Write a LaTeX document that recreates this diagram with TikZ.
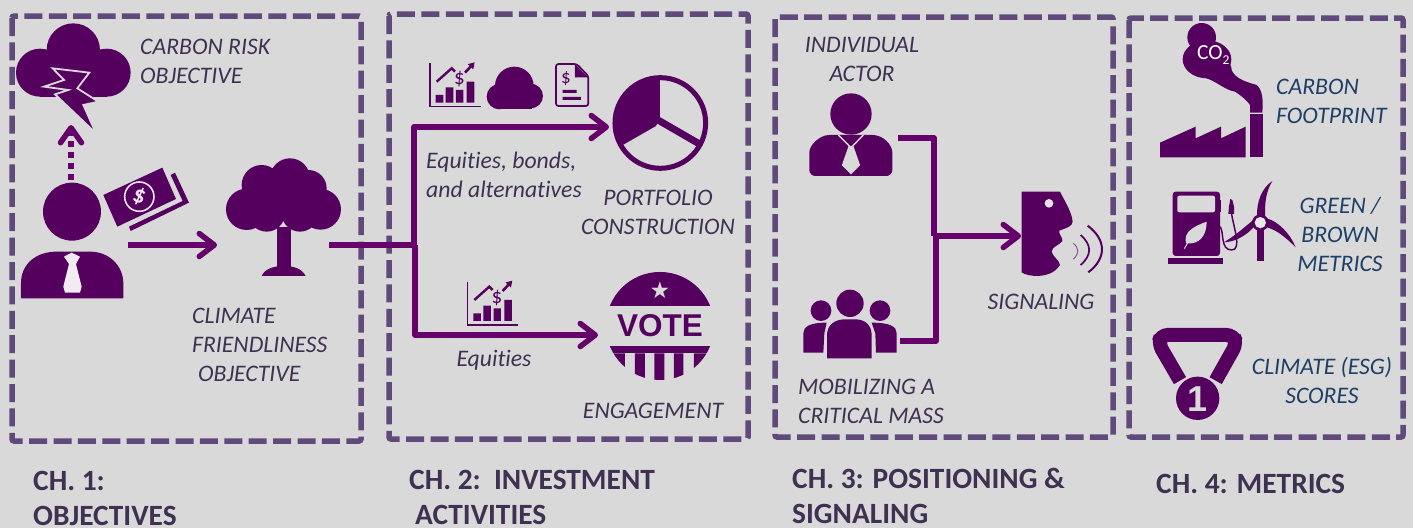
\documentclass[tikz,border=0pt]{standalone}
\usepackage{fontspec}
\setmainfont{Carlito}[Ligatures=NoCommon]
\newfontfamily\voteface{Liberation Sans}
\newfontfamily\symface{DejaVu Sans}
\usetikzlibrary{arrows.meta}
\definecolor{bgc}{HTML}{D9D9D9}
\definecolor{pur}{HTML}{55005F}
\definecolor{lin}{HTML}{66006A}
\definecolor{frame}{HTML}{604A7B}
\definecolor{txt}{HTML}{3F3151}
\definecolor{blu}{HTML}{1F3F66}
\tikzset{
 framebox/.style={draw=frame,line width=5.5pt,dash pattern=on 18pt off 6.4pt,rounded corners=2pt},
 lab/.style={font=\fontsize{23.7}{29}\selectfont\itshape,text=txt,inner sep=0pt,align=left},
 labc/.style={lab,align=center},
 blab/.style={lab,text=blu,align=center},
 head/.style={font=\fontsize{29.4}{35}\selectfont\bfseries,text=txt,inner sep=0pt,align=left,anchor=west},
 conn/.style={draw=lin,line width=5.5pt,line join=round},
 tip/.style={-{Straight Barb[length=15pt,width=23pt,round]}},
 ic/.style={fill=pur,draw=none},
 zoomA/.style={shift={(0,0)},x=.3333pt,y=-.3333pt},
 zoomB/.style={shift={(380,0)},x=.3333pt,y=-.3333pt},
 zoomC/.style={shift={(770,80)},x=.3333pt,y=-.3333pt},
 zoomD/.style={shift={(1125,10)},x=.3333pt,y=-.3333pt},
 chart/.pic={
  \draw[pur,line width=1.6pt] (0,0)--(0,130)--(152,130);
  \fill[pur] (17,95) rectangle (40,118) (47,72) rectangle (70,118) (78,80) rectangle (100,118) (110,55) rectangle (133,118);
  \draw[pur,line width=2.4pt] (20,55)--(65,15)--(75,25);
  \draw[pur,line width=2.6pt,-{Triangle[length=6pt,width=7pt]}] (105,28)--(134,-3);
  \node[inner sep=0pt,text=pur,font=\fontsize{21}{21}\selectfont] at (88,48) {\$};
 }
}
\begin{document}
\begin{tikzpicture}[x=1pt,y=-1pt]
\useasboundingbox (0,0) rectangle (1413,528);
\fill[bgc] (0,0) rectangle (1413,528);
% frames
\draw[framebox] (12,16) rectangle (361,441);
\draw[framebox] (389,14) rectangle (748,439);
\draw[framebox] (775,17) rectangle (1113,437);
\draw[framebox] (1129,18) rectangle (1403,437);

% connector anchors
\coordinate (personR) at (128,245);
\coordinate (treeL) at (217,245);
\coordinate (personT) at (71,180);
\coordinate (cloudB) at (71,125);
\coordinate (treeR) at (329,245);
\coordinate (split) at (414,245);
\coordinate (splitUp) at (413,127);
\coordinate (splitDown) at (415,335);
\coordinate (pieL) at (609,127);
\coordinate (voteL) at (598,335);
\coordinate (actorR) at (898,138);
\coordinate (actorC) at (934,138);
\coordinate (crowdR) at (900,341);
\coordinate (crowdC) at (936,341);
\coordinate (join) at (935,236);
\coordinate (faceL) at (1021,236);

% connectors
\draw[conn,tip] (personR) -- (treeL);
\draw[conn,dash pattern=on 6pt off 5pt,-{Straight Barb[length=15pt,width=21pt,round]}] (personT) -- (cloudB);
\draw[conn] (treeR) -- (split);
\draw[conn,tip] (split) -- (split |- splitUp) -- (pieL);
\draw[conn,tip] (splitDown |- split) -- (splitDown) -- (voteL);
\draw[conn] (actorR) -- (actorC) -- (actorC |- join);
\draw[conn] (crowdR) -- (crowdC) -- (crowdC |- join);
\draw[conn,tip] (join) -- (faceL);

% --- chapter 1 icons
\begin{scope}[zoomA]
 % storm cloud
 \fill[pur] (220,150) circle (80) (120,218) circle (72) (320,218) circle (72);
 \fill[pur] (120,180) rectangle (320,290);
 \fill[pur,draw=bgc,line width=1.8pt,line join=miter] (158,205)--(268,218)--(232,265)--(295,305)--(250,315)--(288,400)--(165,283)--(205,270)--(132,260)--(192,240)--cycle;
 % person
 \fill[pur] (216,635) circle (87);
 \fill[pur] (63,895)--(63,850) .. controls (63,790) and (110,755) .. (170,755) -- (270,755) .. controls (330,755) and (370,800) .. (370,850) -- (370,895)--cycle;
 \fill[white!92!pur] (192,770)--(215,758)--(240,770)--(228,792)--(245,860)--(240,878)--(195,878)--(190,860)--(207,792)--cycle;
 % money
 \fill[pur] (310,585)--(487,503)--(528,597)--(352,680)--cycle;
 \draw[white!90!pur,line width=1.6pt] (418,590) circle (44);
 \node[inner sep=0pt,text=white!90!pur,font=\fontsize{24}{24}\selectfont\bfseries,rotate=-20] at (418,590) {\$};
 \fill[pur] (512,525)--(525,518)--(567,608)--(392,693)--(387,680)--(548,603)--cycle;
 % tree
 \fill[pur] (740,628) circle (62) (962,628) circle (61) (785,555) circle (60) (870,535) circle (60) (925,565) circle (55) (800,640) circle (55) (900,640) circle (55);
 \fill[pur] (760,540) rectangle (950,660);
 \fill[pur] (830,680) rectangle (872,805);
 \fill[pur] (785,828) .. controls (795,805) and (825,798) .. (850,798) .. controls (880,798) and (905,805) .. (917,828) -- cycle;
\end{scope}

% --- chapter 2 icons
\begin{scope}[zoomB]
 \pic at (150,190) {chart};
 \pic at (263,845) {chart};
 % small cloud
 \fill[pur] (403,258) circle (58) (358,290) circle (38) (452,288) circle (37);
 \fill[pur] (350,280) rectangle (455,327);
 % document
 \draw[pur,line width=1.7pt,rounded corners=2.5pt] (528,192)--(590,192)--(625,228)--(625,318)--(528,318)--cycle;
 \fill[pur] (585,192)--(625,232)--(585,232)--cycle;
 \node[inner sep=0pt,text=pur,font=\fontsize{19}{19}\selectfont] at (558,236) {\$};
 \fill[pur] (548,270) rectangle (590,279) (548,291) rectangle (603,300);
 % pie
 \draw[pur,line width=5pt] (841,369) circle (136);
 \begin{scope}
  \clip (841,369) circle (136);
  \fill[pur] (840,225)--(840,352)--(828,378)--(725,437)--(690,437)--(690,225)--cycle;
 \end{scope}
 \draw[pur,line width=7pt] (834,360)--(962,434);
 % vote
 \begin{scope}
  \clip (840,978) circle (162);
  \fill[pur] (660,810) rectangle (1020,917);
  \fill[pur] (660,1038) rectangle (1020,1060);
  \fill[pur] (660,1060) rectangle (735,1150) (765,1060) rectangle (795,1150) (823,1060) rectangle (853,1150) (882,1060) rectangle (910,1150) (942,1060) rectangle (1020,1150);
 \end{scope}
 \node[inner sep=0pt,text=bgc,font=\symface\fontsize{23}{23}\selectfont] at (840,870) {★};
 \node[inner sep=0pt,text=pur,font=\voteface\bfseries\fontsize{31.5}{32}\selectfont] at (840,976) {VOTE};
\end{scope}

% --- chapter 3 icons
\begin{scope}[zoomC]
 \fill[pur] (243,102) circle (62);
 \fill[pur,rounded corners=6pt] (118,288)--(118,235) .. controls (118,195) and (150,165) .. (195,165)--(290,165) .. controls (340,165) and (367,195) .. (367,235)--(367,288)--cycle;
 \draw[bgc,line width=1.4pt] (205,165)--(238,198)--(218,255)--(243,280)--(268,255)--(248,198)--(280,165);
 \fill[bgc] (238,198)--(248,198)--(268,255)--(243,280)--(218,255)--cycle;
 % group
 \fill[pur] (240,670) circle (41) (153,692) circle (31) (330,692) circle (31);
 \fill[pur] (171,835)--(171,765) .. controls (171,735) and (195,718) .. (225,718)--(255,718) .. controls (285,718) and (305,735) .. (305,765)--(305,835)--cycle;
 \fill[pur] (100,818)--(100,760) .. controls (100,740) and (120,728) .. (170,728)--(163,760)--(160,818)--cycle;
 \fill[pur] (380,818)--(380,760) .. controls (380,740) and (360,728) .. (305,728)--(316,760)--(318,818)--cycle;
 % face
 \fill[pur] (755,335)--(870,335) .. controls (885,365) and (905,395) .. (908,425) .. controls (908,440) and (885,445) .. (868,452) .. controls (865,462) and (880,475) .. (877,483) .. controls (870,495) and (845,500) .. (845,515) .. controls (848,530) and (868,540) .. (870,555) .. controls (860,570) and (845,585) .. (805,588) .. controls (785,588) and (765,585) .. (755,577) -- cycle;
 \fill[bgc!70!white] (837,370) circle (13);
 \draw[pur!60!bgc,line width=1pt] (910,490) .. controls (928,505) and (928,522) .. (910,537);
 \draw[pur,line width=1.7pt] (932,465) .. controls (966,495) and (966,525) .. (932,555);
 \draw[pur,line width=2pt] (953,437) .. controls (1010,480) and (1010,535) .. (955,577);
\end{scope}

% --- chapter 4 icons
\begin{scope}[zoomD]
 % factory
 \fill[pur] (105,442)--(105,398)--(212,350)--(212,385)--(288,350)--(288,385)--(362,350)--(362,442)--cycle;
 \fill[pur] (375,313) rectangle (415,442);
 \fill[pur] (230,82) circle (43);
 \fill[pur] (246,148) ellipse (73 and 57);
 \fill[pur] (245,120) .. controls (300,130) and (320,160) .. (320,180) .. controls (330,205) and (360,215) .. (395,225) .. controls (412,240) and (415,265) .. (412,308) -- (375,308) -- (375,285) .. controls (360,265) and (345,255) .. (330,245) .. controls (300,240) and (275,215) .. (245,205) -- cycle;
 \node[inner sep=0pt,text=white,font=\fontsize{21.5}{21}\selectfont,anchor=base] at (265,150) {CO\raisebox{-4.5pt}{\fontsize{13.5}{13}\selectfont 2}};
 % pump
 \fill[pur,rounded corners=3pt] (143,738)--(143,545)--(285,545)--(285,738)--cycle;
 \fill[pur] (130,745) rectangle (295,763);
 \fill[bgc,rounded corners=2pt] (157,557) rectangle (270,607);
 \fill[pur] (285,570) rectangle (289,605);
 \fill[bgc] (183,700) .. controls (175,665) and (205,650) .. (245,635) .. controls (245,675) and (225,705) .. (183,700) -- cycle;
 \draw[bgc,line width=1pt] (178,716)--(192,692);
 \draw[pur,line width=1.5pt] (285,650) .. controls (298,665) and (285,720) .. (320,720) .. controls (352,720) and (325,650) .. (320,612);
 \fill[pur] (310,612)--(312,590)--(316,567)--(322,570)--(327,590)--(327,612)--cycle;
 % turbine
 \fill[pur] (397,655) rectangle (417,753);
 \fill[pur] (396,618) .. controls (395,575) and (410,535) .. (442,513) .. controls (420,550) and (420,585) .. (420,618) -- cycle;
 \fill[pur] (388,650) .. controls (360,680) and (330,695) .. (297,697) .. controls (340,670) and (360,650) .. (385,630) -- cycle;
 \fill[pur] (425,625) .. controls (460,635) and (495,670) .. (512,712) .. controls (480,680) and (455,660) .. (425,652) -- cycle;
 \fill[pur] (406,638) circle (25);
 \fill[bgc!60!white] (406,638) circle (17);
 % medal
 \draw[pur,line width=14pt,rounded corners=7pt] (165,1112)--(100,1000)--(108,975)--(325,975)--(335,1000)--(272,1112);
 \fill[pur] (218,1165) circle (65);
 \node[inner sep=0pt,text=bgc,font=\voteface\bfseries\fontsize{36}{36}\selectfont] at (218,1167) {1};
\end{scope}

% --- labels
\node[lab,anchor=west] (t1) at (140,61) {CARBON RISK\\OBJECTIVE};
\node[lab,anchor=west] (t2) at (192,345) {CLIMATE\\FRIENDLINESS\\\hspace{6pt}OBJECTIVE};
\node[lab,anchor=west] (t3) at (426,175) {Equities, bonds,\\and alternatives};
\node[labc] (t4) at (658,212) {PORTFOLIO\\CONSTRUCTION};
\node[lab] (t5) at (494,360) {Equities};
\node[lab] (t6) at (653,411) {ENGAGEMENT};
\node[labc] (t7) at (862,59) {INDIVIDUAL\\ACTOR};
\node[lab,anchor=west] (t8) at (798,401) {MOBILIZING A\\CRITICAL MASS};
\node[lab] (t9) at (1041,302) {SIGNALING};
\node[blab,align=left,anchor=west] (t10) at (1276,101) {CARBON\\FOOTPRINT};
\node[blab] (t11) at (1340,234) {GREEN /\\BROWN\\METRICS};
\node[blab] (t12) at (1322,380) {CLIMATE (ESG)\\SCORES};

\node[head] (h1) at (33,498) {CH. 1:\\OBJECTIVES};
\node[head] (h2) at (409,497) {CH. 2:\ \ INVESTMENT\\\hspace{6pt}ACTIVITIES};
\node[head] (h3) at (792,496) {CH. 3: POSITIONING \&\\SIGNALING};
\node[head] (h4) at (1156,484) {CH. 4: METRICS};
\end{tikzpicture}
\end{document}
